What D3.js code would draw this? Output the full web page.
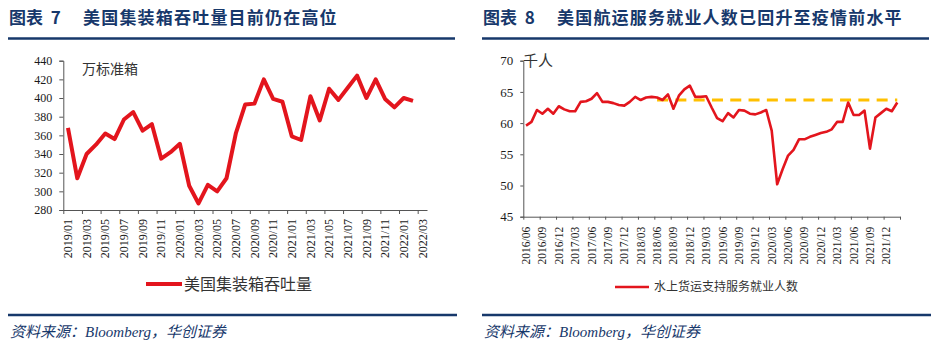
<!DOCTYPE html>
<html>
<head>
<meta charset="utf-8">
<script src="https://cdn.jsdelivr.net/npm/d3@7"></script>
<style>
  body { margin: 0; background: #fff; }
  svg { display: block; }
  .axis text { font-family: "Liberation Serif", "Times New Roman", serif; fill: #1a1a1a; }
</style>
</head>
<body>
<svg id="chart" width="937" height="351"></svg>
<script>
// 图表7: 美国集装箱吞吐量, monthly from 2019/01 (万标准箱)
const boxStart = "2019/01";
const boxCount = 39; // categories up to 2022/03
const boxValues = [368, 314, 340, 350, 362, 356, 377, 385, 365, 372,
  335, 342, 351, 306, 287, 307, 300, 314, 362, 393,
  394, 420, 399, 396, 359, 355, 402, 376, 410, 398,
  411, 424, 400, 420, 399, 390, 400, 397];
const boxTicks = ["2019/01", "2019/03", "2019/05", "2019/07", "2019/09", "2019/11",
  "2020/01", "2020/03", "2020/05", "2020/07", "2020/09", "2020/11",
  "2021/01", "2021/03", "2021/05", "2021/07", "2021/09", "2021/11",
  "2022/01", "2022/03"];
const boxYTicks = [280, 300, 320, 340, 360, 380, 400, 420, 440];

// 图表8: 水上货运支持服务就业人数, monthly from 2016/06 (千人)
const jobStart = "2016/06";
const jobCount = 69; // up to 2022/02
const jobValues = [59.6, 60.2, 62.1, 61.5, 62.3, 61.5, 62.7, 62.2, 61.9, 61.9,
  63.4, 63.5, 63.9, 64.8, 63.4, 63.4, 63.2, 62.9, 62.8, 63.4,
  64.2, 63.7, 64.1, 64.2, 64.1, 63.7, 64.6, 62.3, 64.4, 65.4,
  66.0, 64.2, 64.2, 64.3, 62.5, 60.8, 60.3, 61.6, 60.9, 62.1,
  62.0, 61.5, 61.4, 61.7, 62.1, 58.8, 50.2, 52.6, 54.8, 55.7,
  57.4, 57.4, 57.8, 58.1, 58.4, 58.6, 59.0, 60.2, 60.2, 63.3,
  61.3, 61.3, 62.0, 55.9, 60.9, 61.6, 62.3, 61.9, 63.3];
const jobTicks = ["2016/06", "2016/09", "2016/12", "2017/03", "2017/06", "2017/09",
  "2017/12", "2018/03", "2018/06", "2018/09", "2018/12", "2019/03",
  "2019/06", "2019/09", "2019/12", "2020/03", "2020/06", "2020/09",
  "2020/12", "2021/03", "2021/06", "2021/09", "2021/12"];
const jobYTicks = [45, 50, 55, 60, 65, 70];
const preCovidLevel = 63.7;
const preCovidFrom = "2018/06";

const navy = "#17386b";
const red = "#e3151d";
const serif = "'Liberation Serif', 'Times New Roman', serif";
const cjk = "'Noto Sans CJK SC', sans-serif";

function monthRange(start, count) {
  let [y, m] = start.split("/").map(Number);
  const out = [];
  for (let i = 0; i < count; i++) {
    out.push(y + "/" + String(m).padStart(2, "0"));
    m++;
    if (m > 12) { m = 1; y++; }
  }
  return out;
}

const svg = d3.select("#chart");

// headers and footers
function frame(x0, x1, no, title) {
  svg.append("text").attr("x", x0 + 1).attr("y", 24)
    .style("font-family", cjk).style("font-weight", 700).style("font-size", "17px")
    .attr("fill", navy).text("图表  " + no).style("white-space", "pre");
  svg.append("text").attr("x", x0 + 75).attr("y", 24)
    .style("font-family", cjk).style("font-weight", 700).style("font-size", "17px")
    .style("letter-spacing", "1.2px")
    .attr("fill", navy).text(title);
  svg.append("line").attr("x1", x0).attr("x2", x1).attr("y1", 38.5).attr("y2", 38.5)
    .attr("stroke", navy).attr("stroke-width", 2.5);
  svg.append("line").attr("x1", x0).attr("x2", x1 + 2).attr("y1", 315).attr("y2", 315)
    .attr("stroke", navy).attr("stroke-width", 2.5);
  svg.append("text").attr("x", x0 + 2).attr("y", 337)
    .style("font-family", serif + ", " + cjk).style("font-style", "italic").style("font-size", "15px")
    .attr("fill", navy).text("资料来源：Bloomberg，华创证券");
}
frame(8, 455, "7", "美国集装箱吞吐量目前仍在高位");
frame(482, 929, "8", "美国航运服务就业人数已回升至疫情前水平");

class MonthLine {
  constructor(opt) {
    this.opt = opt;
  }

  initialize() {
    const o = this.opt;
    this.cats = monthRange(o.start, o.count);
    this.xScale = d3.scaleBand().domain(this.cats).range([o.x0, o.x1]).padding(0);
    this.edgeScale = d3.scaleLinear().domain([0, o.count]).range([o.x0, o.x1]);
    this.yScale = d3.scaleLinear().domain(d3.extent(o.yTicks)).range([o.y1, o.y0]);
    this.g = svg.append("g");
  }

  cx(c) {
    return this.xScale(c) + this.xScale.bandwidth() / 2;
  }

  update() {
    const o = this.opt;
    const g = this.g;

    // y axis
    const yAxis = g.append("g").attr("class", "axis").attr("transform", `translate(${o.x0},0)`)
      .call(d3.axisLeft(this.yScale).tickValues(o.yTicks).tickSize(o.yTickSize).tickPadding(o.yPad));
    yAxis.attr("font-family", null).attr("font-size", o.yFont);

    // boundary ticks
    g.append("g").attr("transform", `translate(0,${o.y1})`)
      .call(d3.axisBottom(this.edgeScale).tickValues(d3.range(0, o.count + 1, o.step))
        .tickSize(o.xTickSize).tickFormat("").tickSizeOuter(0));

    // category labels
    const labels = g.append("g").attr("class", "axis").attr("transform", `translate(0,${o.y1})`)
      .call(d3.axisBottom(this.xScale).tickValues(o.xTicks).tickSize(0));
    labels.attr("font-family", null).attr("font-size", o.xFont);
    labels.select(".domain").remove();
    labels.selectAll("text")
      .attr("transform", "rotate(-90)")
      .attr("text-anchor", "end")
      .attr("x", -o.labelGap).attr("y", 0).attr("dy", "0.35em");

    g.selectAll(".domain, .tick line").attr("stroke", "#555");

    const cats = this.cats;
    const line = d3.line()
      .x((d, i) => this.cx(cats[i]))
      .y(d => this.yScale(d));

    if (o.level != null) {
      const from = cats.indexOf(o.levelFrom);
      const lv = cats.slice(from).map(() => o.level);
      g.append("path").datum(lv)
        .attr("d", d3.line().x((d, i) => this.cx(cats[from + i])).y(d => this.yScale(d)))
        .attr("fill", "none").attr("stroke", "#ffc000").attr("stroke-width", 3)
        .attr("stroke-dasharray", "11,7.3");
    }

    g.append("path").datum(o.values)
      .attr("d", line)
      .attr("fill", "none").attr("stroke", red)
      .attr("stroke-width", o.lineWidth).attr("stroke-linejoin", "round");
  }
}

const left = new MonthLine({
  start: boxStart, count: boxCount, values: boxValues,
  xTicks: boxTicks, yTicks: boxYTicks, step: 2,
  x0: 63.3, x1: 427, y0: 60.7, y1: 210,
  yTickSize: 4, yPad: 7, xTickSize: 4, yFont: 12, xFont: 12, labelGap: 9,
  lineWidth: 4
});
left.initialize();
left.update();

svg.append("text").attr("x", 82).attr("y", 74)
  .style("font-family", cjk).style("font-size", "14px").attr("fill", "#333").text("万标准箱");

const right = new MonthLine({
  start: jobStart, count: jobCount, values: jobValues,
  xTicks: jobTicks, yTicks: jobYTicks, step: 3,
  x0: 523.3, x1: 900, y0: 60.7, y1: 216.7,
  yTickSize: 3, yPad: 7, xTickSize: 3, yFont: 13, xFont: 11.5, labelGap: 10,
  lineWidth: 2.6, level: preCovidLevel, levelFrom: preCovidFrom
});
right.initialize();
right.update();

svg.append("text").attr("x", 523).attr("y", 66)
  .style("font-family", cjk).style("font-size", "15px").attr("fill", "#333").text("千人");

// legends
svg.append("line").attr("x1", 146).attr("x2", 182).attr("y1", 284).attr("y2", 284)
  .attr("stroke", red).attr("stroke-width", 4);
svg.append("text").attr("x", 184).attr("y", 290)
  .style("font-family", cjk).style("font-size", "16px").attr("fill", "#333").text("美国集装箱吞吐量");

svg.append("line").attr("x1", 615).attr("x2", 649).attr("y1", 287).attr("y2", 287)
  .attr("stroke", red).attr("stroke-width", 2.6);
svg.append("text").attr("x", 654).attr("y", 291)
  .style("font-family", cjk).style("font-size", "12px").attr("fill", "#333").text("水上货运支持服务就业人数");
</script>
</body>
</html>
